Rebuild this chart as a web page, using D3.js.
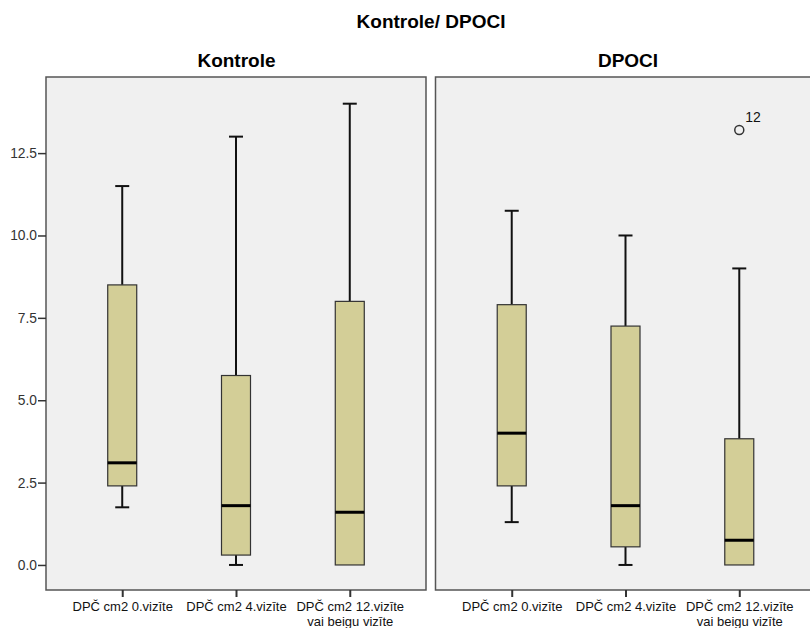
<!DOCTYPE html>
<html>
<head>
<meta charset="utf-8">
<script src="https://cdn.jsdelivr.net/npm/d3@7"></script>
<style>
  html, body { margin: 0; padding: 0; background: #ffffff; }
  svg { display: block; font-family: "Liberation Sans", Arial, sans-serif; }
</style>
</head>
<body>
<svg id="chart" width="810" height="628"></svg>
<script>
// ---- data ----
const title = "Kontrole/ DPOCI";
const groups = ["Kontrole", "DPOCI"];
const categories = ["DPČ cm2 0.vizīte", "DPČ cm2 4.vizīte", "DPČ cm2 12.vizīte\nvai beigu vizīte"];
// per group: [min, q1, median, q3, max] for each category
const kontroleStats = [
  [1.75, 2.4, 3.1, 8.5, 11.5],
  [0.0, 0.3, 1.8, 5.75, 13.0],
  [0.0, 0.0, 1.6, 8.0, 14.0]
];
const dpociStats = [
  [1.3, 2.4, 4.0, 7.9, 10.75],
  [0.0, 0.55, 1.8, 7.25, 10.0],
  [0.0, 0.0, 0.75, 3.83, 9.0]
];
// outliers: [categoryIndex, value, caseLabel]
const kontroleOutliers = [];
const dpociOutliers = [[2, 13.2, "12"]];
const yTicks = [0, 2.5, 5, 7.5, 10, 12.5];

(function () {
const panels = [
  { name: groups[0], stats: kontroleStats, outliers: kontroleOutliers, x0: 46, x1: 426, tx: 236.5 },
  { name: groups[1], stats: dpociStats, outliers: dpociOutliers, x0: 435.5, x1: 815.5, tx: 628 }
];

const svg = d3.select("#chart");
const plotTop = 77, plotBottom = 590;
const y = d3.scaleLinear().domain([-0.76, 14.81]).range([plotBottom, plotTop]);

svg.append("text")
  .attr("x", 431).attr("y", 28)
  .attr("text-anchor", "middle")
  .attr("font-size", 19).attr("font-weight", "bold")
  .text(title);

const boxW = 29, capW = 14;
const fill = "#d3ce97";

panels.forEach((p, pi) => {
  const g = svg.append("g");
  const x = d3.scalePoint().domain(categories).range([p.x0, p.x1]).padding(0.67);

  g.append("text")
    .attr("x", p.tx).attr("y", 67)
    .attr("text-anchor", "middle")
    .attr("font-size", 19).attr("font-weight", "bold")
    .text(p.name);

  g.append("rect")
    .attr("x", p.x0).attr("y", plotTop)
    .attr("width", p.x1 - p.x0).attr("height", plotBottom - plotTop)
    .attr("fill", "#f0f0f0")
    .attr("stroke", "#555").attr("stroke-width", 1.5);

  // x axis
  const xAxis = g.append("g").attr("transform", `translate(0,${plotBottom})`)
    .call(d3.axisBottom(x).tickSize(7).tickFormat(""));
  xAxis.select(".domain").remove();
  xAxis.selectAll(".tick line").attr("stroke", "#333").attr("stroke-width", 2);
  xAxis.selectAll(".tick").each(function(d) {
    const lines = d.split("\n");
    const t = d3.select(this).append("text")
      .attr("fill", "#111").attr("font-size", 13).attr("text-anchor", "middle");
    lines.forEach((ln, i) => {
      t.append("tspan").attr("x", 0).attr("y", 21 + i * 15).text(ln);
    });
  });

  if (pi === 0) {
    const yAxis = g.append("g").attr("transform", `translate(${p.x0},0)`)
      .call(d3.axisLeft(y).tickValues(yTicks).tickSize(8).tickFormat(d3.format(".1f")));
    yAxis.select(".domain").remove();
    yAxis.selectAll(".tick line").attr("stroke", "#333").attr("stroke-width", 1.5);
    yAxis.selectAll(".tick text").attr("font-size", 13.8).attr("fill", "#333").attr("x", -9);
  }

  p.stats.forEach((s, i) => {
    const cx = x(categories[i]);
    const [mn, q1, md, q3, mx] = s;
    if (q3 < mx) {
      g.append("line").attr("x1", cx).attr("x2", cx).attr("y1", y(q3)).attr("y2", y(mx))
        .attr("stroke", "#111").attr("stroke-width", 2);
      g.append("line").attr("x1", cx - capW / 2).attr("x2", cx + capW / 2).attr("y1", y(mx)).attr("y2", y(mx))
        .attr("stroke", "#111").attr("stroke-width", 2);
    }
    if (mn < q1) {
      g.append("line").attr("x1", cx).attr("x2", cx).attr("y1", y(q1)).attr("y2", y(mn))
        .attr("stroke", "#111").attr("stroke-width", 2);
      g.append("line").attr("x1", cx - capW / 2).attr("x2", cx + capW / 2).attr("y1", y(mn)).attr("y2", y(mn))
        .attr("stroke", "#111").attr("stroke-width", 2);
    }
    g.append("rect")
      .attr("x", cx - boxW / 2).attr("y", y(q3))
      .attr("width", boxW).attr("height", y(q1) - y(q3))
      .attr("fill", fill).attr("stroke", "#333").attr("stroke-width", 1.2);
    g.append("line").attr("x1", cx - boxW / 2).attr("x2", cx + boxW / 2).attr("y1", y(md)).attr("y2", y(md))
      .attr("stroke", "#000").attr("stroke-width", 3);
  });

  p.outliers.forEach(o => {
    const cx = x(categories[o[0]]);
    g.append("circle").attr("cx", cx).attr("cy", y(o[1])).attr("r", 4.5)
      .attr("fill", "none").attr("stroke", "#333").attr("stroke-width", 1.5);
    g.append("text").attr("x", cx + 6).attr("y", y(o[1]) - 8)
      .attr("font-size", 14).attr("fill", "#111").text(o[2]);
  });
});
})();
</script>
</body>
</html>
